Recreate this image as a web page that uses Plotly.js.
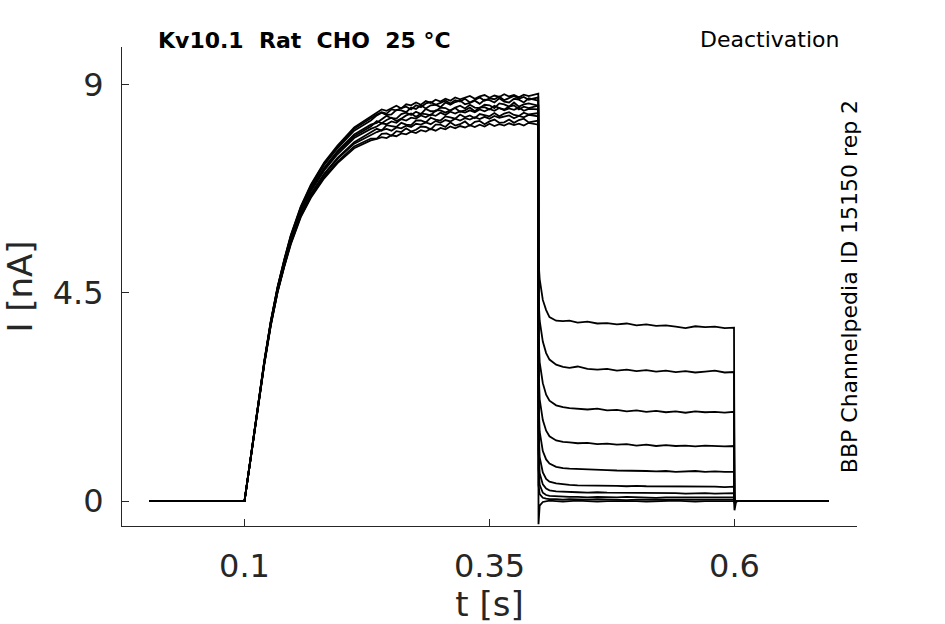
<!DOCTYPE html>
<html>
<head>
<meta charset="utf-8">
<script src="https://cdn.plot.ly/plotly-3.0.1.min.js"></script>
<style>html,body{margin:0;padding:0;background:#fff;}#chart{width:945px;height:624px;}</style>
</head>
<body>
<div id="chart"></div>
<script>
// ---- time bases (s) ----
const tBase = [0.003, 0.1];
const tRise = [0.1065, 0.1133, 0.1201, 0.1268, 0.1337, 0.1405, 0.1472, 0.1574, 0.1677, 0.1813, 0.1949, 0.2119, 0.2289];
const tPlateau = [0.235, 0.24, 0.245, 0.25, 0.255, 0.26, 0.265, 0.27, 0.275, 0.28, 0.285, 0.29, 0.295, 0.3, 0.305, 0.31, 0.315, 0.32, 0.325, 0.33, 0.335, 0.34, 0.345, 0.35, 0.355, 0.36, 0.365, 0.37, 0.375, 0.38, 0.385, 0.39, 0.3998];
const tDeact = [0.4, 0.4012, 0.4044, 0.4078, 0.4112, 0.418, 0.425, 0.4316, 0.44, 0.45, 0.46, 0.47, 0.48, 0.49, 0.5, 0.51, 0.52, 0.53, 0.54, 0.55, 0.56, 0.57, 0.58, 0.59, 0.5995];
const tAfter = [0.6, 0.6015, 0.603, 0.65, 0.696];

// ---- current (nA), one row per sweep ----
const baseI = [0, 0];
const riseI = [
  [0.97, 1.99, 3.01, 3.88, 4.62, 5.21, 5.73, 6.35, 6.82, 7.30, 7.66, 8.05, 8.28],
  [0.95, 1.96, 2.96, 3.82, 4.54, 5.10, 5.61, 6.20, 6.64, 7.08, 7.42, 7.76, 7.96],
  [0.97, 1.99, 3.02, 3.89, 4.63, 5.22, 5.75, 6.37, 6.84, 7.32, 7.69, 8.08, 8.32],
  [0.95, 1.95, 2.95, 3.80, 4.52, 5.07, 5.57, 6.16, 6.58, 7.01, 7.34, 7.67, 7.84],
  [0.96, 1.97, 2.98, 3.84, 4.57, 5.14, 5.65, 6.25, 6.70, 7.15, 7.50, 7.85, 8.05],
  [0.97, 1.98, 3.00, 3.87, 4.61, 5.19, 5.71, 6.33, 6.79, 7.27, 7.63, 8.01, 8.23],
  [0.95, 1.96, 2.96, 3.81, 4.53, 5.09, 5.59, 6.18, 6.62, 7.06, 7.40, 7.73, 7.92],
  [0.96, 1.98, 2.99, 3.86, 4.59, 5.17, 5.68, 6.29, 6.75, 7.21, 7.57, 7.93, 8.14],
  [0.94, 1.95, 2.94, 3.79, 4.51, 5.06, 5.55, 6.14, 6.56, 6.98, 7.31, 7.63, 7.80],
  [0.96, 1.97, 2.99, 3.85, 4.58, 5.16, 5.67, 6.27, 6.73, 7.18, 7.54, 7.89, 8.10]
];
const plateauI = [
  [8.36, 8.41, 8.38, 8.47, 8.45, 8.50, 8.53, 8.47, 8.56, 8.52, 8.60, 8.63, 8.57, 8.61, 8.66, 8.60, 8.67, 8.64, 8.70, 8.62, 8.68, 8.73, 8.66, 8.71, 8.69, 8.75, 8.67, 8.72, 8.76, 8.70, 8.74, 8.68, 8.73],
  [8.05, 8.01, 8.13, 8.11, 8.09, 8.18, 8.14, 8.13, 8.23, 8.23, 8.19, 8.29, 8.25, 8.23, 8.32, 8.30, 8.27, 8.36, 8.30, 8.34, 8.28, 8.37, 8.35, 8.32, 8.39, 8.32, 8.38, 8.41, 8.35, 8.33, 8.40, 8.36, 8.39],
  [8.40, 8.47, 8.44, 8.50, 8.55, 8.49, 8.58, 8.56, 8.62, 8.57, 8.65, 8.61, 8.68, 8.64, 8.70, 8.66, 8.73, 8.69, 8.72, 8.76, 8.70, 8.75, 8.78, 8.72, 8.77, 8.74, 8.80, 8.75, 8.78, 8.73, 8.79, 8.76, 8.81],
  [7.84, 7.94, 7.95, 7.90, 8.00, 7.98, 8.06, 7.99, 8.03, 8.10, 8.09, 8.04, 8.14, 8.14, 8.09, 8.19, 8.12, 8.15, 8.21, 8.12, 8.20, 8.22, 8.15, 8.21, 8.25, 8.18, 8.19, 8.25, 8.18, 8.24, 8.27, 8.19, 8.23],
  [8.10, 8.17, 8.15, 8.21, 8.18, 8.26, 8.23, 8.29, 8.27, 8.34, 8.30, 8.36, 8.33, 8.40, 8.35, 8.42, 8.38, 8.43, 8.40, 8.45, 8.41, 8.47, 8.43, 8.48, 8.44, 8.50, 8.45, 8.49, 8.46, 8.51, 8.44, 8.48, 8.47],
  [8.34, 8.40, 8.35, 8.36, 8.46, 8.45, 8.41, 8.51, 8.48, 8.56, 8.49, 8.56, 8.57, 8.52, 8.62, 8.57, 8.63, 8.66, 8.58, 8.61, 8.66, 8.59, 8.68, 8.67, 8.62, 8.71, 8.64, 8.62, 8.70, 8.68, 8.62, 8.71, 8.66],
  [7.98, 8.02, 8.05, 8.01, 8.08, 8.06, 8.12, 8.09, 8.16, 8.14, 8.19, 8.15, 8.22, 8.18, 8.24, 8.21, 8.27, 8.23, 8.28, 8.25, 8.30, 8.26, 8.31, 8.27, 8.33, 8.29, 8.31, 8.34, 8.28, 8.33, 8.30, 8.35, 8.32],
  [8.18, 8.26, 8.33, 8.28, 8.27, 8.37, 8.40, 8.35, 8.42, 8.37, 8.48, 8.43, 8.43, 8.51, 8.50, 8.44, 8.51, 8.55, 8.49, 8.57, 8.51, 8.50, 8.57, 8.56, 8.50, 8.60, 8.58, 8.53, 8.62, 8.53, 8.58, 8.60, 8.55],
  [7.83, 7.87, 7.85, 7.91, 7.89, 7.95, 7.93, 7.99, 7.96, 8.02, 7.99, 8.05, 8.01, 8.07, 8.04, 8.10, 8.06, 8.11, 8.08, 8.13, 8.09, 8.14, 8.10, 8.16, 8.11, 8.15, 8.12, 8.17, 8.13, 8.16, 8.12, 8.18, 8.14],
  [8.22, 8.17, 8.24, 8.29, 8.22, 8.27, 8.34, 8.38, 8.31, 8.38, 8.37, 8.34, 8.45, 8.45, 8.40, 8.45, 8.50, 8.42, 8.45, 8.51, 8.43, 8.51, 8.52, 8.47, 8.55, 8.50, 8.47, 8.53, 8.56, 8.47, 8.53, 8.50, 8.55]
];
const deactI = [
  [5.2, 4.8, 4.35, 4.13, 3.98, 3.90, 3.89, 3.90, 3.86, 3.88, 3.84, 3.85, 3.82, 3.84, 3.80, 3.82, 3.79, 3.80, 3.77, 3.74, 3.78, 3.76, 3.77, 3.74, 3.75],
  [4.4, 3.9, 3.45, 3.2, 3.06, 2.95, 2.90, 2.88, 2.91, 2.86, 2.84, 2.86, 2.82, 2.84, 2.81, 2.83, 2.80, 2.82, 2.79, 2.81, 2.78, 2.80, 2.82, 2.78, 2.79],
  [3.6, 3.0, 2.55, 2.3, 2.17, 2.07, 2.03, 2.01, 2.00, 1.98, 2.00, 1.96, 1.97, 1.94, 1.96, 1.93, 1.95, 1.92, 1.94, 1.91, 1.94, 1.92, 1.93, 1.91, 1.93],
  [2.9, 2.2, 1.75, 1.52, 1.40, 1.31, 1.28, 1.27, 1.25, 1.26, 1.23, 1.24, 1.22, 1.23, 1.20, 1.22, 1.19, 1.21, 1.19, 1.20, 1.18, 1.20, 1.19, 1.18, 1.19],
  [2.2, 1.5, 1.08, 0.90, 0.81, 0.74, 0.71, 0.70, 0.69, 0.68, 0.68, 0.67, 0.66, 0.66, 0.65, 0.65, 0.64, 0.65, 0.63, 0.64, 0.65, 0.63, 0.64, 0.63, 0.63],
  [1.6, 0.95, 0.62, 0.48, 0.42, 0.38, 0.36, 0.35, 0.34, 0.34, 0.33, 0.34, 0.33, 0.32, 0.33, 0.32, 0.32, 0.31, 0.32, 0.31, 0.32, 0.31, 0.31, 0.30, 0.31],
  [1.1, 0.6, 0.36, 0.27, 0.23, 0.21, 0.20, 0.19, 0.19, 0.18, 0.19, 0.18, 0.18, 0.17, 0.18, 0.17, 0.18, 0.17, 0.17, 0.16, 0.17, 0.17, 0.16, 0.17, 0.17],
  [0.7, 0.35, 0.18, 0.13, 0.11, 0.10, 0.09, 0.09, 0.09, 0.08, 0.09, 0.08, 0.08, 0.09, 0.08, 0.08, 0.07, 0.08, 0.08, 0.07, 0.08, 0.08, 0.07, 0.08, 0.08],
  [0.35, 0.15, 0.07, 0.05, 0.04, 0.04, 0.03, 0.04, 0.03, 0.03, 0.04, 0.03, 0.03, 0.02, 0.03, 0.03, 0.02, 0.03, 0.03, 0.02, 0.03, 0.03, 0.02, 0.03, 0.03],
  [-0.5, -0.1, -0.02, 0, 0.01, 0, -0.01, 0, 0.01, 0, -0.01, 0, 0, 0.01, 0, -0.01, 0, 0, 0.01, 0, -0.01, 0, 0, 0, 0]
];
const afterI = [
  [-0.05, 0, 0, 0, 0],
  [0, 0, 0, 0, 0],
  [0, 0, 0, 0, 0],
  [0, 0, 0, 0, 0],
  [0, 0, 0, 0, 0],
  [0, 0, 0, 0, 0],
  [0, 0, 0, 0, 0],
  [0, 0, 0, 0, 0],
  [0, 0, 0, 0, 0],
  [-0.2, -0.03, 0, 0, 0]
];

// ---- tick labels & texts ----
const xTicks = [0.1, 0.35, 0.6];
const xTickText = ['0.1', '0.35', '0.6'];
const yTicks = [0, 4.5, 9];
const yTickText = ['0', '4.5', '9'];
const titleLeft = 'Kv10.1\u00a0\u00a0Rat\u00a0\u00a0CHO\u00a0\u00a025\u00a0°C';
const titleRight = 'Deactivation';
const sideLabel = 'BBP Channelpedia ID 15150 rep 2';

const tAll = [].concat(tBase, tRise, tPlateau, tDeact, tAfter);
const traces = riseI.map((r, k) => ({
  type: 'scatter',
  mode: 'lines',
  x: tAll,
  y: [].concat(baseI, r, plateauI[k], deactI[k], afterI[k]),
  line: {color: '#000000', width: 1.8},
  hoverinfo: 'skip',
  showlegend: false
}));

const F = 'DejaVu Sans, Verdana, sans-serif';
const axCol = '#262626';
const layout = {
  width: 945, height: 624,
  margin: {l: 122, r: 88, t: 47, b: 98, pad: 0},
  paper_bgcolor: '#ffffff', plot_bgcolor: '#ffffff',
  showlegend: false,
  xaxis: {
    range: [-0.025, 0.725], tickvals: xTicks, ticktext: xTickText,
    ticks: 'inside', ticklen: 7, tickwidth: 1, tickcolor: axCol,
    showline: true, linecolor: axCol, linewidth: 1,
    showgrid: false, zeroline: false,
    tickfont: {family: F, size: 32, color: axCol},
    ticklabelstandoff: 12,
    title: {text: 't [s]', font: {family: F, size: 34, color: axCol}, standoff: 1}
  },
  yaxis: {
    range: [-0.54, 9.82], tickvals: yTicks, ticktext: yTickText,
    ticks: 'inside', ticklen: 7, tickwidth: 1, tickcolor: axCol,
    showline: true, linecolor: axCol, linewidth: 1,
    showgrid: false, zeroline: false,
    tickfont: {family: F, size: 32, color: axCol},
    ticklabelstandoff: 11,
    title: {text: 'I [nA]', font: {family: F, size: 34, color: axCol}, standoff: 12}
  },
  annotations: [
    {text: '<b>' + titleLeft + '</b>', xref: 'paper', yref: 'paper', x: 0.046, y: 1.0146,
     xanchor: 'left', yanchor: 'middle', showarrow: false,
     font: {family: F, size: 22, color: '#000000'}},
    {text: titleRight, xref: 'paper', yref: 'paper', x: 0.978, y: 1.016,
     xanchor: 'right', yanchor: 'middle', showarrow: false,
     font: {family: F, size: 22, color: '#000000'}},
    {text: sideLabel, xref: 'paper', yref: 'paper', x: 0.99, y: 0.5,
     xanchor: 'center', yanchor: 'middle', showarrow: false, textangle: -90,
     font: {family: F, size: 22, color: '#000000'}}
  ]
};

Plotly.newPlot('chart', traces, layout, {staticPlot: true, displayModeBar: false});
</script>
</body>
</html>
